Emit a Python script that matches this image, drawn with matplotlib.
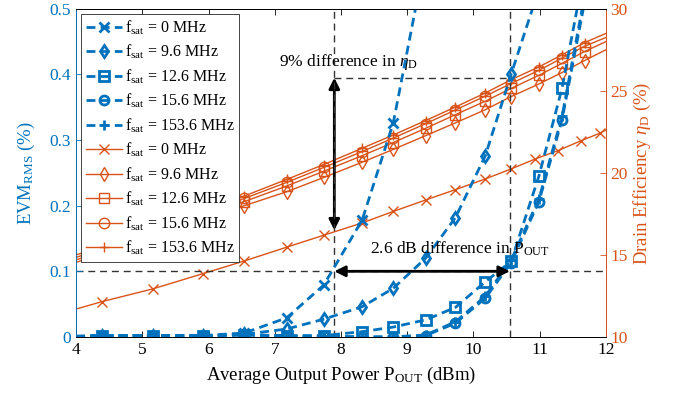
import numpy as np
import matplotlib
matplotlib.use('Agg')
import matplotlib.pyplot as plt

plt.rcParams['font.family'] = ['Liberation Serif', 'DejaVu Serif']
plt.rcParams['mathtext.fontset'] = 'custom'
plt.rcParams['mathtext.rm'] = 'Liberation Serif'
plt.rcParams['mathtext.it'] = 'Liberation Serif:italic'
plt.rcParams['xtick.direction'] = 'in'
plt.rcParams['ytick.direction'] = 'in'

BLUE = '#0072BD'
ORANGE = '#D95319'

# output power grids (dBm); first/last points are the curve ends without markers
pout_a = [4.0, 4.39, 5.16, 5.91, 6.54, 7.18, 7.74, 8.32, 8.79, 9.28, 9.73,
          10.18, 10.57, 10.93, 11.28, 11.62, 11.91, 12.0]
pout_b = [4.0, 4.39, 5.16, 5.91, 6.54, 7.18, 7.74, 8.32, 8.79, 9.28, 9.73,
          10.18, 10.57, 10.99, 11.34, 11.68, 12.0]

# EVM_RMS (%) -- curves stop once they leave the top of the plot
evm_0 = [0.001, 0.002, 0.002, 0.002, 0.006, 0.029, 0.079, 0.178, 0.326, 0.58]
evm_96 = [0.001, 0.002, 0.002, 0.002, 0.004, 0.012, 0.027, 0.046, 0.074,
          0.120, 0.182, 0.276, 0.400, 0.53]
evm_126 = [0.0, 0.002, 0.002, 0.002, 0.003, 0.002, 0.002, 0.008, 0.015,
           0.026, 0.045, 0.084, 0.115, 0.245, 0.379, 0.56]
evm_156 = [0.0, 0.002, 0.002, 0.001, 0.003, 0.001, 0.001, 0.0, 0.0,
           0.002, 0.021, 0.059, 0.113, 0.206, 0.331, 0.51]
evm_1536 = [0.0, 0.002, 0.002, 0.001, 0.004, 0.001, 0.001, 0.0, 0.0,
            0.003, 0.023, 0.062, 0.117, 0.210, 0.336, 0.52]

# drain efficiency (%)
eta_0 = [11.7, 12.15, 12.93, 13.85, 14.63, 15.47, 16.2, 16.95, 17.65, 18.35,
         18.98, 19.63, 20.24, 20.84, 21.36, 21.95, 22.42, 22.6]
eta_96 = [14.55, 15.03, 16.05, 17.1, 18.0, 18.85, 19.72, 20.65, 21.43, 22.27,
          23.05, 23.85, 24.65, 25.42, 26.12, 26.85, 27.5]
eta_126 = [14.7, 15.2, 16.25, 17.3, 18.25, 19.2, 20.1, 21.05, 21.85, 22.72,
           23.55, 24.37, 25.15, 25.95, 26.68, 27.4, 28.0]
eta_156 = [14.85, 15.36, 16.42, 17.5, 18.44, 19.42, 20.33, 21.3, 22.12,
           23.0, 23.84, 24.68, 25.45, 26.25, 27.0, 27.72, 28.25]
eta_1536 = [15.0, 15.51, 16.56, 17.64, 18.59, 19.6, 20.51, 21.5, 22.31,
            23.19, 24.02, 24.87, 25.68, 26.46, 27.2, 27.94, 28.5]

fsat_labels = ['0', '9.6', '12.6', '15.6', '153.6']
markers = ['x', 'd', 's', 'o', '+']

fig = plt.figure(figsize=(6.86, 4.03), dpi=100)
ax = fig.add_axes([0.111, 0.164, 0.772, 0.814])
ax2 = ax.twinx()
ax.set_zorder(ax2.get_zorder() + 1)
ax.patch.set_visible(False)

evm_series = [(pout_a, evm_0), (pout_b, evm_96), (pout_b, evm_126),
              (pout_b, evm_156), (pout_b, evm_1536)]
eta_series = [(pout_a, eta_0), (pout_b, eta_96), (pout_b, eta_126),
              (pout_b, eta_156), (pout_b, eta_1536)]

handles = []
for (px, ev), m, lab in zip(evm_series, markers, fsat_labels):
    n = len(ev)
    h, = ax.plot(px[:n], ev, color=BLUE, lw=2, dashes=(3.2, 1.9),
                 marker=m, ms=6.5, mfc='none', mew=2,
                 markevery=list(range(1, n)))
    h.set_label(r'f$_{\rm sat}$ = %s MHz' % lab)
    handles.append(h)

for (px, et), m, lab in zip(eta_series, markers, fsat_labels):
    h, = ax2.plot(px, et, color=ORANGE, lw=1, marker=m, ms=7.5,
                  mfc='none', mew=1, markevery=list(range(1, len(et) - 1)))
    h.set_label(r'f$_{\rm sat}$ = %s MHz' % lab)
    handles.append(h)

# guide lines and arrows
gl = dict(color='0.2', lw=1, dashes=(5, 3.5), zorder=1)
ax.axhline(0.1, **gl)
ax.axvline(7.9, **gl)
ax.axvline(10.55, **gl)
ax2.plot([7.9, 10.55], [25.8, 25.8], **gl)

ax2.annotate('', xy=(7.9, 25.8), xytext=(7.9, 16.5),
             arrowprops=dict(arrowstyle='<|-|>', color='black', lw=2,
                             mutation_scale=16, shrinkA=0, shrinkB=0))
ax.annotate('', xy=(7.9, 0.1), xytext=(10.55, 0.1),
            arrowprops=dict(arrowstyle='<|-|>', color='black', lw=2,
                            mutation_scale=16, shrinkA=0, shrinkB=0))
ax2.text(8.12, 26.75, r'9% difference in $\eta_{\rm D}$', fontsize=12.5,
         ha='center', va='center')
ax.text(9.8, 0.134, r'2.6 dB difference in P$_{\rm OUT}$', fontsize=12.5,
        ha='center', va='center')

ax.set_xlim(4, 12)
ax.set_ylim(0, 0.5)
ax2.set_ylim(10, 30)
ax.set_xticks(range(4, 13))
ax.set_yticks([0, 0.1, 0.2, 0.3, 0.4, 0.5])
ax.set_yticklabels(['0', '0.1', '0.2', '0.3', '0.4', '0.5'])
ax2.set_yticks([10, 15, 20, 25, 30])

ax.tick_params(axis='x', top=True, labelsize=12.5, length=4, width=0.6)
ax.tick_params(axis='y', colors=BLUE, labelsize=12.5, length=4, width=0.6)
ax2.tick_params(axis='y', colors=ORANGE, labelsize=12.5, length=4, width=0.6)

ax.spines['left'].set_color(BLUE)
ax2.spines['left'].set_color(BLUE)
ax.spines['right'].set_color(ORANGE)
ax2.spines['right'].set_color(ORANGE)
for s in ax.spines.values():
    s.set_linewidth(0.7)
for s in ax2.spines.values():
    s.set_linewidth(0.7)

ax.set_xlabel(r'Average Output Power P$_{\rm OUT}$ (dBm)', fontsize=13.5,
              labelpad=5)
ax.set_ylabel(r'EVM$_{\rm RMS}$ (%)', fontsize=13.5, color=BLUE, labelpad=9)
ax2.set_ylabel(r'Drain Efficiency $\eta_{\rm D}$ (%)', fontsize=13.5,
               color=ORANGE, labelpad=3)

leg = ax.legend(handles=handles, loc='upper left', fontsize=11.5,
                bbox_to_anchor=(0.0, 1.0), borderaxespad=0.3,
                handlelength=2.3, handletextpad=0.15, labelspacing=0.38,
                borderpad=0.3, numpoints=1, fancybox=False, framealpha=1,
                edgecolor='0.15')
leg.get_frame().set_linewidth(0.6)

fig.savefig('out.png', dpi=100)
